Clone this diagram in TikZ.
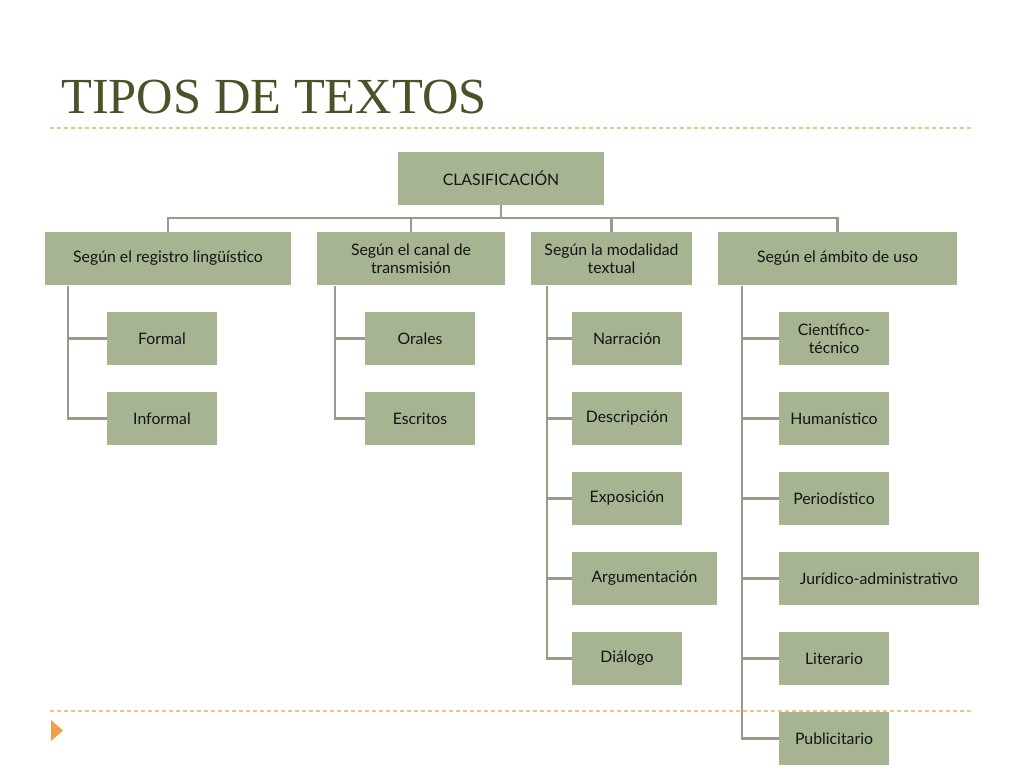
\documentclass[tikz,border=0pt]{standalone}
\usepackage{fontspec}
\setmainfont{Lato}
\newfontfamily\titlefont{Liberation Serif}
\definecolor{boxfill}{RGB}{166,180,145}
\definecolor{connc}{RGB}{150,156,136}
\definecolor{titlec}{RGB}{74,82,40}
\definecolor{dashc}{RGB}{240,196,140}
\definecolor{triac}{RGB}{240,160,70}
\definecolor{textc}{RGB}{20,20,20}
\begin{document}
\begin{tikzpicture}[x=1pt,y=-1pt,
  gbox/.style={fill=boxfill, draw=none, inner sep=2pt, align=center,
     font=\fontsize{15.8}{17.5}\selectfont, text=textc, minimum height=53pt},
  child/.style={gbox, minimum width=110pt},
  conn/.style={draw=connc, line width=2.6pt},
  dashl/.style={draw=dashc, line width=1.2pt, dash pattern=on 4pt off 3pt}]
\useasboundingbox (0,0) rectangle (1024,768);
\fill[white] (0,0) rectangle (1024,768);
% title
\node[anchor=base west, inner sep=0pt, text=titlec, font=\titlefont\fontsize{50.5}{50}\selectfont] (title) at (61,113) {TIPOS DE TEXTOS};
\draw[dashl] (50,128) -- (972,128);
\draw[dashl] (50,711) -- (972,711);
\fill[triac] (51,720) -- (63,730.5) -- (51,741) -- cycle;
% nodes
\node[gbox, minimum width=206pt] (clas) at (501,178.5) {CLASIFICACIÓN};
\node[gbox, minimum width=246pt] (b1) at (168,258.5) {Según el registro lingüístico};
\node[gbox, minimum width=188pt] (b2) at (411,258.5) {Según el canal de\\transmisión};
\node[gbox, minimum width=161pt] (b3) at (611.5,258.5) {Según la modalidad\\textual};
\node[gbox, minimum width=239pt] (b4) at (837.5,258.5) {Según el ámbito de uso};
\coordinate (bus) at (501,218);
% connectors level 1
\draw[conn] (clas.south) -- (bus);
\draw[conn] (b1.north) -- (b1.north |- bus) -- (b4.north |- bus) -- (b4.north);
\draw[conn] (b2.north) -- (b2.north |- bus);
\draw[conn] (b3.north) -- (b3.north |- bus);
% children group 1
\node[child] (formal) at (162,338.5) {Formal};
\node[child] (informal) at (162,418.5) {Informal};
\coordinate (s1) at (68,286);
\draw[conn] (s1) |- (formal.west);
\draw[conn] (s1) |- (informal.west);
% group 2
\node[child] (orales) at (420,338.5) {Orales};
\node[child] (escritos) at (420,418.5) {Escritos};
\coordinate (s2) at (335,286);
\draw[conn] (s2) |- (orales.west);
\draw[conn] (s2) |- (escritos.west);
% group 3
\node[child] (narr) at (627,338.5) {Narración};
\node[child] (desc) at (627,418.5) {Descripción};
\node[child] (expo) at (627,498.5) {Exposición};
\node[child, minimum width=145pt] (argu) at (644.5,578.5) {Argumentación};
\node[child] (dial) at (627,658.5) {Diálogo};
\coordinate (s3) at (547,286);
\foreach \n in {narr,desc,expo,argu,dial} \draw[conn] (s3) |- (\n.west);
% group 4
\node[child] (cien) at (834,338.5) {Científico-\\técnico};
\node[child] (huma) at (834,418.5) {Humanístico};
\node[child] (peri) at (834,498.5) {Periodístico};
\node[child, minimum width=200pt] (juri) at (879,578.5) {Jurídico-administrativo};
\node[child] (lite) at (834,658.5) {Literario};
\node[child] (publ) at (834,738.5) {Publicitario};
\coordinate (s4) at (742,286);
\foreach \n in {cien,huma,peri,juri,lite,publ} \draw[conn] (s4) |- (\n.west);
\end{tikzpicture}
\end{document}
